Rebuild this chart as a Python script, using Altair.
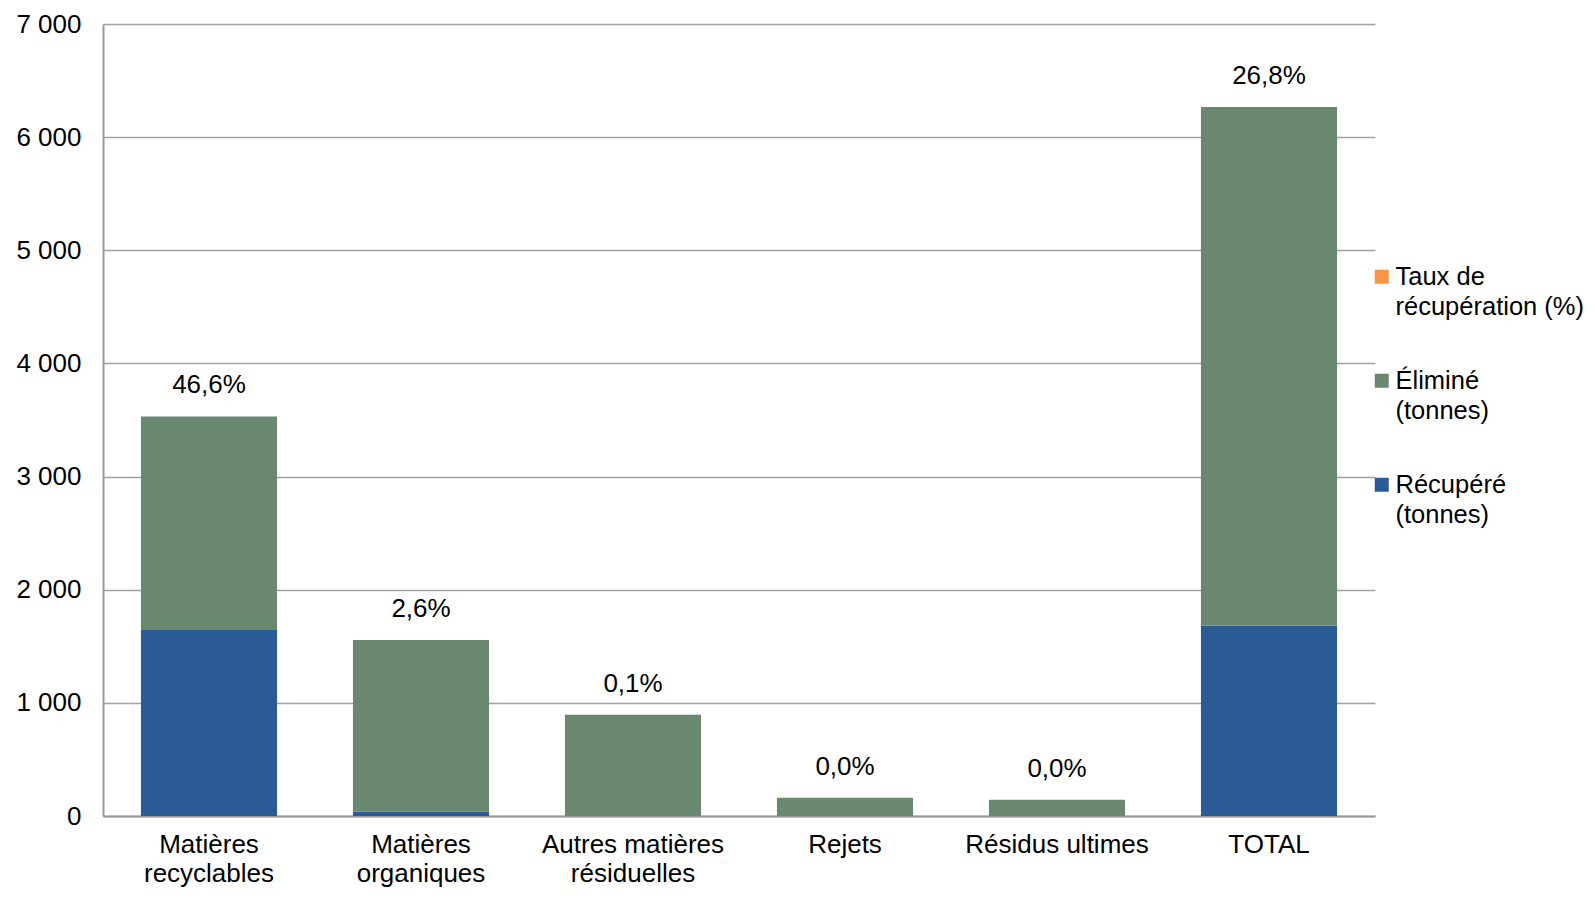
import altair as alt
import pandas as pd

categories = ["Matières\nrecyclables", "Matières\norganiques", "Autres matières\nrésiduelles",
              "Rejets", "Résidus ultimes", "TOTAL"]
recupere = [1645, 40, 1, 0, 0, 1681]
elimine = [1886, 1516, 893, 161, 143, 4586]
taux = [46.6, 2.6, 0.1, 0.0, 0.0, 26.8]

series = ["Taux de\nrécupération (%)", "Éliminé\n(tonnes)", "Récupéré\n(tonnes)"]
colors = ["#F79646", "#6A8870", "#2A5B94"]

rows = []
for c, r, e, t in zip(categories, recupere, elimine, taux):
    rows.append({"cat": c, "serie": series[2], "val": r, "ord": 0})
    rows.append({"cat": c, "serie": series[1], "val": e, "ord": 1})
    rows.append({"cat": c, "serie": series[0], "val": t / 100, "ord": 2})
df = pd.DataFrame(rows)

lab = pd.DataFrame({
    "cat": categories,
    "top": [r + e for r, e in zip(recupere, elimine)],
    "txt": [f"{t:.1f}%".replace(".", ",") for t in taux],
})

FONT = "Liberation Sans"
FS = 26

xenc = alt.X("cat:N", sort=categories, title=None,
             scale=alt.Scale(paddingInner=0.358, paddingOuter=0.179),
             axis=alt.Axis(labelExpr="split(datum.label, '\\n')", labelAngle=0,
                           labelFontSize=FS, labelFont=FONT, labelColor="#000000",
                           labelPadding=15, labelLineHeight=29.5, labelLimit=400, tickSize=0,
                           domainColor="#9A9A9A", domainWidth=2, grid=False))

bars = alt.Chart(df).mark_bar().encode(
    x=xenc,
    y=alt.Y("val:Q", stack="zero", title=None,
            scale=alt.Scale(domain=[0, 7000], nice=False),
            axis=alt.Axis(values=[0, 1000, 2000, 3000, 4000, 5000, 6000, 7000],
                          labelExpr="replace(format(datum.value, ','), ',', ' ')",
                          labelFontSize=FS, labelFont=FONT, labelColor="#000000",
                          labelPadding=22, tickSize=0, domainColor="#9A9A9A", domainWidth=2,
                          gridColor="#A0A0A0", gridWidth=1.5)),
    color=alt.Color("serie:N", scale=alt.Scale(domain=series, range=colors),
                    legend=alt.Legend(title=None, orient="none", legendX=1266, legendY=240,
                                      padding=0,
                                      labelExpr="split(datum.label, '\\n')",
                                      labelFontSize=25.5, labelFont=FONT, labelColor="#000000",
                                      labelBaseline="middle", labelOffset=1,
                                      symbolType="square", symbolSize=196, symbolStrokeWidth=0,
                                      rowPadding=47, labelLimit=300)),
    order=alt.Order("ord:Q"),
)

text = alt.Chart(lab).mark_text(fontSize=FS, font=FONT, color="#000000", dy=-31).encode(
    x=alt.X("cat:N", sort=categories),
    y=alt.Y("top:Q"),
    text="txt:N",
)

chart = (bars + text).properties(
    width=1272, height=792,
    autosize=alt.AutoSizeParams(type="none"),
    padding={"left": 95, "top": 16, "right": 212, "bottom": 74},
).configure(style={"guide-label": {"lineHeight": 30}}).configure_view(stroke=None)

chart.save("out.html", embed_options={"renderer": "svg", "actions": False})
